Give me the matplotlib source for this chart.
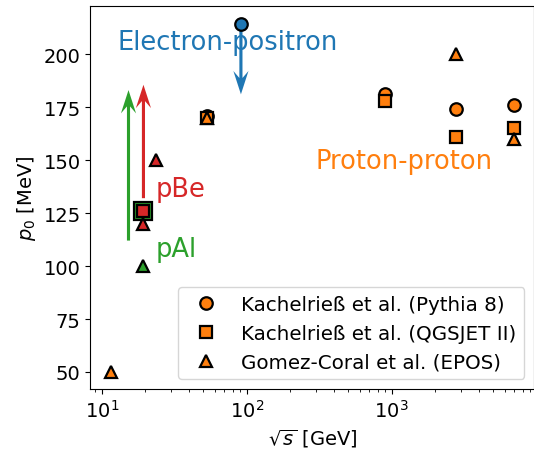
import numpy as np
import matplotlib.pyplot as plt
from matplotlib.patches import FancyArrow

# proton-proton: sqrt(s) [GeV] and p0 [MeV] for the three models
pp_pythia_s = [53, 900, 2760, 7000]
pp_pythia_p0 = [171, 181, 174, 176]
pp_qgsjet_s = [53, 900, 2760, 7000]
pp_qgsjet_p0 = [170, 178, 161, 165]
pp_epos_s = [11.5, 53, 2760, 7000]
pp_epos_p0 = [50, 170, 200, 160]

# electron-positron (Z pole)
ee_s = [91.2]
ee_p0 = [214]

# proton-nucleus
pbe_sq_s, pbe_sq_p0 = [19.4], [126]
pbe_tri_s, pbe_tri_p0 = [19.4, 23.7], [120, 150]
pal_sq_s, pal_sq_p0 = [19.4], [126]
pal_tri_s, pal_tri_p0 = [19.4], [100]

# arrows: (x, y_start, y_end)
ee_arrow = (91.2, 214, 181)
pbe_arrow = (19.4, 132, 185.5)
pal_arrow = (15.3, 112, 183)

fig = plt.figure(figsize=(5.34, 4.56), dpi=100)
ax = fig.add_axes([0.1693, 0.1439, 0.8315, 0.8414])

mk = dict(markeredgecolor="black", markeredgewidth=1.6, markersize=9, linestyle="none")

ax.plot(pp_pythia_s, pp_pythia_p0, "o", color="tab:orange", label="Kachelrieß et al. (Pythia 8)", **mk)
ax.plot(pp_qgsjet_s, pp_qgsjet_p0, "s", color="tab:orange", label="Kachelrieß et al. (QGSJET II)", **mk)
ax.plot(pp_epos_s, pp_epos_p0, "^", color="tab:orange", label="Gomez-Coral et al. (EPOS)", **mk)

ax.plot(ee_s, ee_p0, "o", color="tab:blue", **mk)

ax.plot(pal_sq_s, pal_sq_p0, "s", color="tab:green", **dict(mk, markersize=13.5))
ax.plot(pal_tri_s, pal_tri_p0, "^", color="tab:green", **mk)
ax.plot(pbe_tri_s, pbe_tri_p0, "^", color="tab:red", **mk)
ax.plot(pbe_sq_s, pbe_sq_p0, "s", color="tab:red", **dict(mk, markersize=8.5))

ax.set_xscale("log")
ax.set_xlim(10**0.922, 10**3.984)
ax.set_ylim(41.8, 222.8)

# vertical arrows: x in axes fraction, y in data units
trans = ax.get_yaxis_transform()
x0, x1 = np.log10(ax.get_xlim())
for (x, y0, y1), c in [(ee_arrow, "tab:blue"), (pbe_arrow, "tab:red"), (pal_arrow, "tab:green")]:
    xf = (np.log10(x) - x0) / (x1 - x0)
    arr = FancyArrow(xf, y0, 0, y1 - y0, width=0.007, head_width=0.034,
                     head_length=11, overhang=0.3, length_includes_head=True,
                     transform=trans, facecolor=c, edgecolor="none", zorder=1.5)
    ax.add_artist(arr)

ax.text(12.9, 205.7, "Electron-positron", color="tab:blue", fontsize=18.5, va="center")
ax.text(297, 149.5, "Proton-proton", color="tab:orange", fontsize=18.5, va="center")
ax.text(23.7, 136.5, "pBe", color="tab:red", fontsize=18.5, va="center")
ax.text(23.7, 108, "pAl", color="tab:green", fontsize=18.5, va="center")

ax.tick_params(labelsize=14)
ax.set_xlabel(r"$\sqrt{s}$ [GeV]", fontsize=14)
ax.set_ylabel(r"$p_0$ [MeV]", fontsize=14)
ax.legend(loc="lower right", fontsize=14.3)

fig.savefig("out.png", dpi=100)
